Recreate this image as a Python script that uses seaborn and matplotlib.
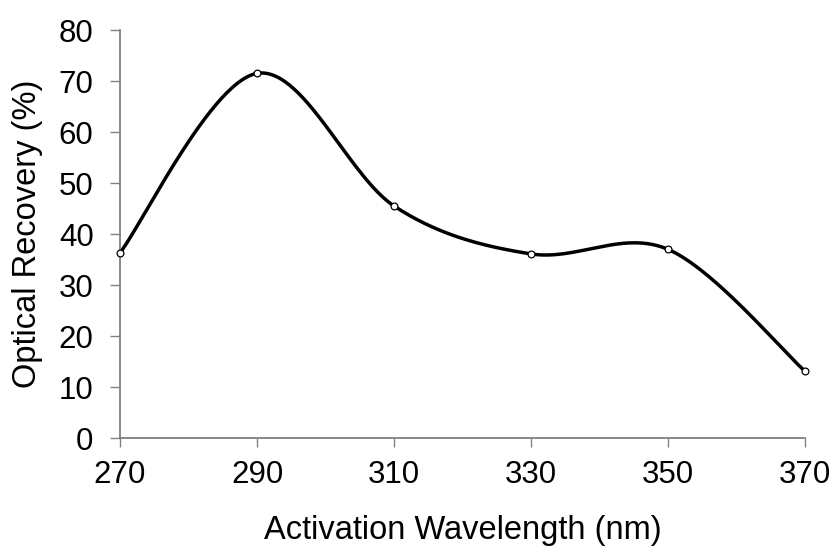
import numpy as np
import pandas as pd
import matplotlib
matplotlib.use("Agg")
import matplotlib.pyplot as plt
import seaborn as sns

wavelength = [270, 290, 310, 330, 350, 370]
recovery = [36.3, 71.5, 45.5, 36.1, 37.0, 13.1]
x_ticks = [270, 290, 310, 330, 350, 370]
y_ticks = [0, 10, 20, 30, 40, 50, 60, 70, 80]
x_label = "Activation Wavelength (nm)"
y_label = "Optical Recovery (%)"

sns.set_theme(style="white")
plt.rcParams['font.family'] = ['Liberation Sans', 'DejaVu Sans']
plt.rcParams['axes.labelcolor'] = 'black'
plt.rcParams['text.color'] = 'black'

# Excel-style smoothed curve (cubic Bezier with Catmull-Rom control points)
P = np.column_stack([wavelength, recovery]).astype(float)
n = len(P)
curve = []
t = np.linspace(0, 1, 60)
for i in range(n - 1):
    p0 = P[i - 1] if i > 0 else P[i]
    p1 = P[i]
    p2 = P[i + 1]
    p3 = P[i + 2] if i + 2 < n else P[i + 1]
    c1 = p1 + (p2 - p0) / 6.0
    c2 = p2 - (p3 - p1) / 6.0
    seg = ((1 - t) ** 3)[:, None] * p1 + (3 * (1 - t) ** 2 * t)[:, None] * c1 \
        + (3 * (1 - t) * t ** 2)[:, None] * c2 + (t ** 3)[:, None] * p2
    curve.append(seg if i == 0 else seg[1:])
curve = np.vstack(curve)
curve_df = pd.DataFrame({"x": curve[:, 0], "y": curve[:, 1]})
pts_df = pd.DataFrame({"x": wavelength, "y": recovery})

fig = plt.figure(figsize=(8.34, 5.56), dpi=100)
ax = fig.add_axes([0.1439, 0.2122, 0.8213, 0.7338])

sns.lineplot(data=curve_df, x="x", y="y", ax=ax, color="black", linewidth=2.5,
             sort=False, estimator=None)
sns.scatterplot(data=pts_df, x="x", y="y", ax=ax, color="white", edgecolor="black",
                s=24, linewidth=0.9, zorder=5, clip_on=False)

ax.set_xlim(270, 370)
ax.set_ylim(0, 80)
ax.set_xticks(x_ticks)
ax.set_yticks(y_ticks)
ax.set_xlabel(x_label, fontsize=23.5, labelpad=18, color='black')
ax.set_ylabel(y_label, fontsize=23.5, labelpad=11, color='black')
ax.tick_params(axis='both', labelsize=22.5, direction='out', width=1.0,
               color='#808080', labelcolor='black', bottom=True, left=True)
ax.tick_params(axis='x', length=6.5, pad=9)
ax.tick_params(axis='y', length=7, pad=12)
for side in ['top', 'right']:
    ax.spines[side].set_visible(False)
for side in ['left', 'bottom']:
    ax.spines[side].set_color('#808080')
    ax.spines[side].set_linewidth(1.3)
ax.grid(False)

fig.savefig("out.png", dpi=100)
